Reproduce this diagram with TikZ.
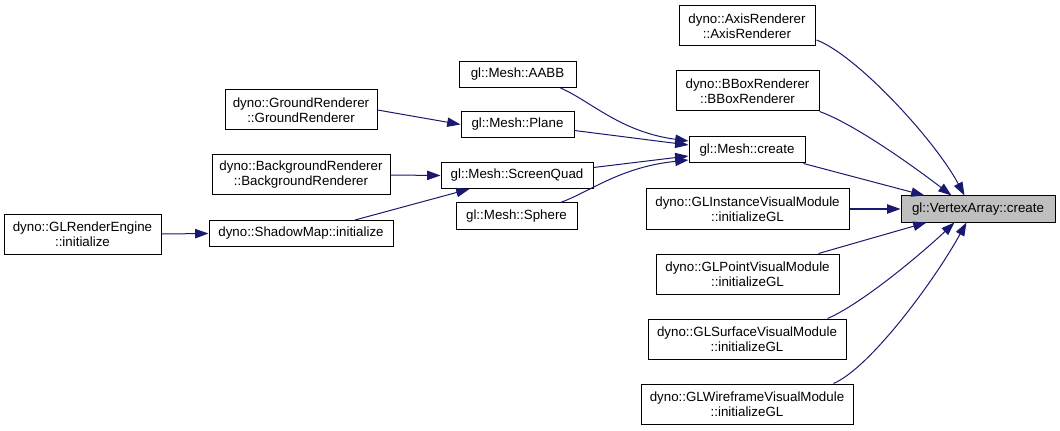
\documentclass[tikz,border=0pt]{standalone}
\usepackage{fontspec}
\setmainfont{Liberation Sans}
\usetikzlibrary{arrows.meta,calc}
\definecolor{edgeblue}{RGB}{25,25,112}
\definecolor{hlgrey}{RGB}{191,191,191}
\begin{document}
\begin{tikzpicture}[x=0.75pt,y=-0.75pt,
  box/.style={draw=black,line width=0.75pt,fill=white,inner sep=0pt,align=center,
    font=\fontsize{10}{11.25}\selectfont,minimum height=19.5pt},
  box2/.style={box,minimum height=30pt},
  edge/.style={draw=edgeblue,line width=0.75pt,-{Triangle[length=10pt,width=7pt]}}]
\useasboundingbox (0,0) rectangle (1060,431);
% nodes
\node[box2,minimum width=102pt] (axis) at (747,26) {dyno::AxisRenderer\\::AxisRenderer};
\node[box2,minimum width=107.25pt] (bbox) at (747.5,91) {dyno::BBoxRenderer\\::BBoxRenderer};
\node[box,minimum width=87pt] (mcreate) at (747,150) {gl::Mesh::create};
\node[box2,minimum width=152.25pt] (glinst) at (747.5,209) {dyno::GLInstanceVisualModule\\::initializeGL};
\node[box,fill=hlgrey,minimum width=115.5pt] (vac) at (978,209) {gl::VertexArray::create};
\node[box2,minimum width=137.25pt] (glpoint) at (747.5,274) {dyno::GLPointVisualModule\\::initializeGL};
\node[box2,minimum width=148.5pt] (glsurf) at (747,339) {dyno::GLSurfaceVisualModule\\::initializeGL};
\node[box2,minimum width=159pt] (glwire) at (747,404) {dyno::GLWireframeVisualModule\\::initializeGL};
\node[box,minimum width=87.75pt] (aabb) at (517.5,74.5) {gl::Mesh::AABB};
\node[box,minimum width=84.75pt] (plane) at (517.5,124.5) {gl::Mesh::Plane};
\node[box,minimum width=114pt] (squad) at (517,175.5) {gl::Mesh::ScreenQuad};
\node[box,minimum width=90.75pt] (sphere) at (516.5,216) {gl::Mesh::Sphere};
\node[box2,minimum width=114pt] (ground) at (301,110) {dyno::GroundRenderer\\::GroundRenderer};
\node[box2,minimum width=133.5pt] (bg) at (301,175) {dyno::BackgroundRenderer\\::BackgroundRenderer};
\node[box2,minimum width=117.75pt] (engine) at (82.5,234) {dyno::GLRenderEngine\\::initialize};
\node[box,minimum width=138pt] (shadow) at (301,233.5) {dyno::ShadowMap::initialize};
% edges
\draw[edge] (ground.east) -- (plane.west);
\draw[edge] (bg.east) -- (squad.west);
\draw[edge] (engine.east) -- (shadow.west);
\draw[edge] ($(shadow.north)+(54,0)$) -- ($(squad.south west)+(29,0)$);
\draw[edge] ($(aabb.south east)+(-16,0)$) .. controls +(30,13) and +(-68,-9) .. ($(mcreate.west)+(0,-9)$);
\draw[edge] ($(plane.east)+(0,6)$) -- ($(mcreate.west)+(0,-5)$);
\draw[edge] ($(squad.east)+(0,-8)$) -- ($(mcreate.west)+(0,6)$);
\draw[edge] ($(sphere.north east)+(-17,0)$) .. controls +(30,-11) and +(-68,7) .. ($(mcreate.west)+(0,10)$);
\draw[edge] ($(axis.east)+(1,14)$) .. controls +(40,15) and +(-30,-56) .. ($(vac.north west)+(64,0)$);
\draw[edge] ($(bbox.south east)+(0,0)$) .. controls +(31,11) and +(-47,-36) .. ($(vac.north west)+(51,0)$);
\draw[edge] ($(mcreate.south east)+(-2,0)$) -- ($(vac.north west)+(24,0)$);
\draw[edge] (glinst.east) -- (vac.west);
\draw[edge] ($(glpoint.north east)+(-21,0)$) -- ($(vac.south west)+(26,0)$);
\draw[edge] ($(glsurf.north east)+(-19,0)$) .. controls +(33,-14) and +(-35,33) .. ($(vac.south west)+(54,0)$);
\draw[edge] ($(glwire.north east)+(-20,0)$) .. controls +(37,-16) and +(-32,58) .. ($(vac.south west)+(66,0)$);
\end{tikzpicture}
\end{document}
